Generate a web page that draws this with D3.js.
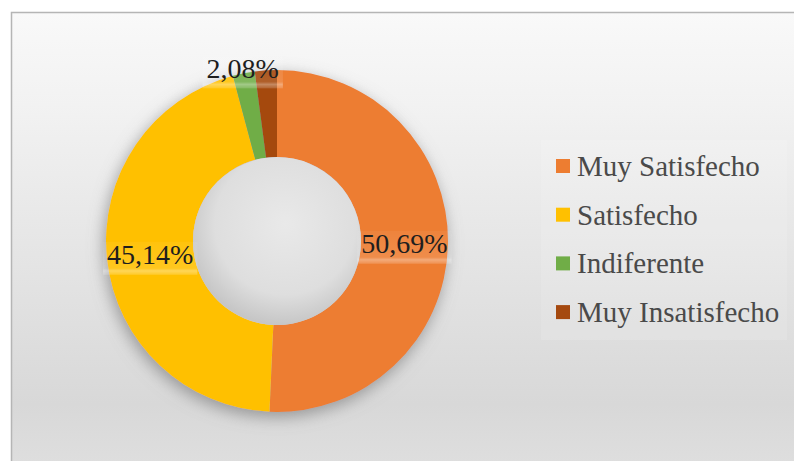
<!DOCTYPE html>
<html><head><meta charset="utf-8">
<script src="https://cdn.jsdelivr.net/npm/d3@7"></script>
<style>html,body{margin:0;padding:0;background:#fff;}svg{display:block;}
text{font-family:'Liberation Serif','Times New Roman',Tinos,'DejaVu Serif',serif;}</style>
</head><body>
<script>
const categories = ["Muy Satisfecho", "Satisfecho", "Indiferente", "Muy Insatisfecho"];
const values = [50.69, 45.14, 2.08, 2.08];
const labels = ["50,69%", "45,14%", "2,08%", null];
const colors = ["#ED7D31", "#FFC000", "#70AD47", "#A5490F"];

const W = 794, H = 461;
const cx = 277, cy = 241, rOuter = 171, rInner = 84;

const svg = d3.select("body").append("svg").attr("width", W).attr("height", H);
const defs = svg.append("defs");

const bg = defs.append("linearGradient").attr("id", "bg").attr("x1", 0).attr("y1", 0).attr("x2", 0).attr("y2", 1);
[[0, "#f9f9f9"], [0.2, "#f2f2f2"], [0.5, "#e6e6e6"], [0.85, "#d8d8d8"], [1, "#dfdfdf"]]
  .forEach(([o, c]) => bg.append("stop").attr("offset", o).attr("stop-color", c));

const hole = defs.append("radialGradient").attr("id", "hole").attr("cx", 0.55).attr("cy", 0.4).attr("r", 0.6);
[[0, "#e9e9e9"], [0.7, "#dedede"], [1, "#c6c6c6"]]
  .forEach(([o, c]) => hole.append("stop").attr("offset", o).attr("stop-color", c));

const sh = defs.append("filter").attr("id", "shadow").attr("x", -0.2).attr("y", -0.2).attr("width", 1.4).attr("height", 1.4);
sh.append("feDropShadow").attr("dx", -2).attr("dy", 5).attr("stdDeviation", 8)
  .attr("flood-color", "#7a7a7a").attr("flood-opacity", 0.7);

const lb = defs.append("linearGradient").attr("id", "lbox").attr("x1", 0).attr("y1", 0).attr("x2", 0).attr("y2", 1);
[[0, 0.05], [0.8, 0.12], [0.88, 0.35], [1, 0.15]]
  .forEach(([o, a]) => lb.append("stop").attr("offset", o).attr("stop-color", "#fff").attr("stop-opacity", a));

// frame
svg.append("rect").attr("x", 11.5).attr("y", 12.5).attr("width", W).attr("height", H)
  .attr("fill", "url(#bg)").attr("stroke", "#b5b5b5").attr("stroke-width", 1.5);

const g = svg.append("g").attr("transform", `translate(${cx},${cy})`);

const pie = d3.pie().sort(null).value(d => d)(values);
const arc = d3.arc().innerRadius(rInner).outerRadius(rOuter);

const ring = g.append("g").attr("filter", "url(#shadow)");
ring.selectAll("path").data(pie).join("path")
  .attr("d", arc).attr("fill", (d, i) => colors[i]);

g.append("circle").attr("r", rInner).attr("fill", "url(#hole)");

// labels
const outerLabel = d3.arc().innerRadius(176).outerRadius(176);
const fs = 28;
pie.forEach((d, i) => {
  if (!labels[i]) return;
  const pos = i === 2 ? outerLabel.centroid(d) : arc.centroid(d);
  const t = g.append("text")
    .attr("x", pos[0]).attr("y", pos[1]).attr("dy", "0.34em")
    .attr("text-anchor", "middle")
    .attr("font-size", fs).attr("fill", "#1e1e1e")
    .text(labels[i]);
  const bb = t.node().getBBox();
  g.insert("rect", "text")
    .attr("x", bb.x - 4).attr("y", pos[1] + 10 - 23).attr("width", bb.width + 8).attr("height", 33)
    .attr("fill", "url(#lbox)");
});

// legend
const lg = svg.append("g");
lg.append("rect").attr("x", 541).attr("y", 140).attr("width", 246).attr("height", 200)
  .attr("fill", "#fff").attr("fill-opacity", 0.12);
categories.forEach((c, i) => {
  const by = 176 + i * 48.7;
  lg.append("rect").attr("x", 556).attr("y", by - 17).attr("width", 14).attr("height", 14)
    .attr("fill", colors[i]);
  lg.append("text").attr("x", 577).attr("y", by)
    .attr("font-size", 29).attr("fill", "#4a4a4a").text(c);
});
</script>
</body></html>
